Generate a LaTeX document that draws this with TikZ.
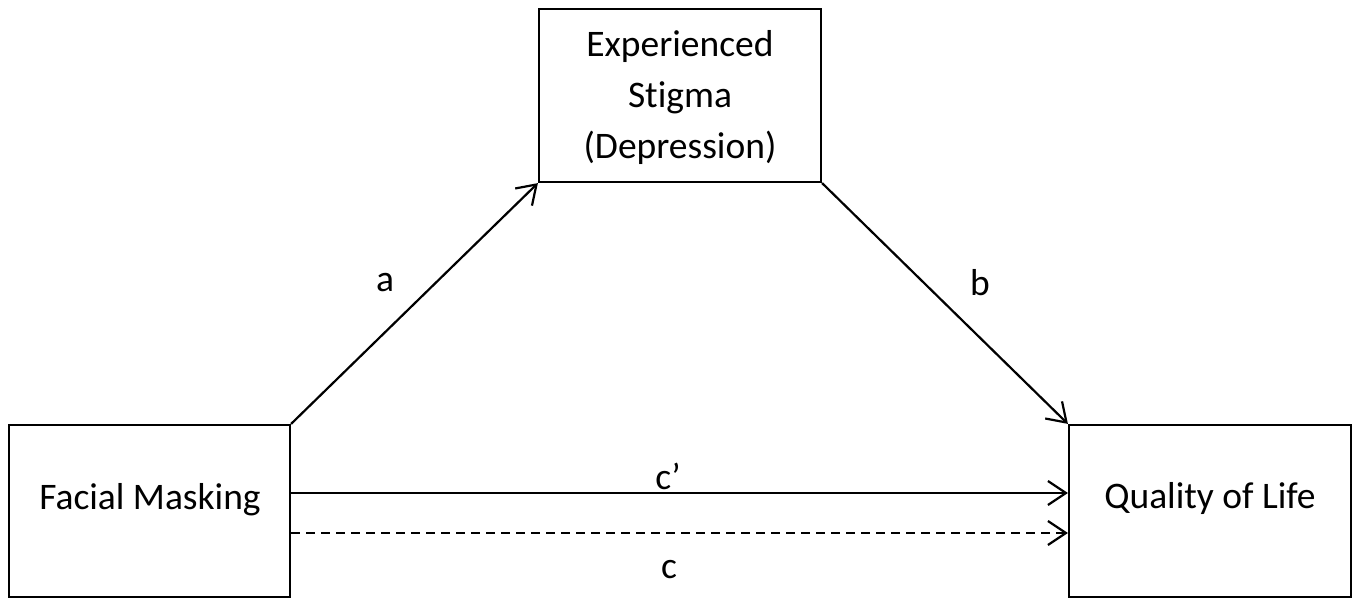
\documentclass[tikz,border=0pt]{standalone}
\usepackage{fontspec}
\setmainfont{Carlito}[Ligatures=NoCommon]
\usetikzlibrary{arrows.meta}
\begin{document}
\begin{tikzpicture}[x=1pt,y=-1pt,
  box/.style={draw, line width=2.2pt, inner sep=0pt},
  txt/.style={font=\fontsize{37.5}{50}\selectfont, inner sep=0pt, anchor=base},
  conn/.style={line width=2.2pt, -{Straight Barb[length=18pt,width=24pt,line width=2.2pt]}},
  lbl/.style={font=\fontsize{37.5}{50}\selectfont, inner sep=0pt}]
\useasboundingbox (0,0) rectangle (1359,599);
\node[box, minimum width=281pt, minimum height=172pt] (fm) at (149.5,511) {};
\node[box, minimum width=282pt, minimum height=172pt] (ql) at (1210,511) {};
\node[box, minimum width=282pt, minimum height=173pt] (es) at (680,95.5) {};
\node[txt] (tfm) at (150,509) {Facial Masking};
\node[txt] (tql) at (1210,508) {Quality of Life};
\node[txt] (tes1) at (680,57) {Experienced};
\node[txt] (tes2) at (680,108) {Stigma};
\node[txt] (tes3) at (680,158) {(Depression)};
\draw[conn] (fm.north east) -- (es.south west);
\draw[conn] (es.south east) -- (ql.north west);
\draw[conn] (fm.east |- 0,493) -- (ql.west |- 0,493);
\draw[conn, dash pattern=on 9pt off 6pt] (fm.east |- 0,533) -- (ql.west |- 0,533);
\node[lbl] (la) at (385,283) {a};
\node[lbl] (lb) at (980,283) {b};
\node[lbl] (lcp) at (668,476) {c’};
\node[lbl] (lc) at (669,570) {c};
\end{tikzpicture}
\end{document}
